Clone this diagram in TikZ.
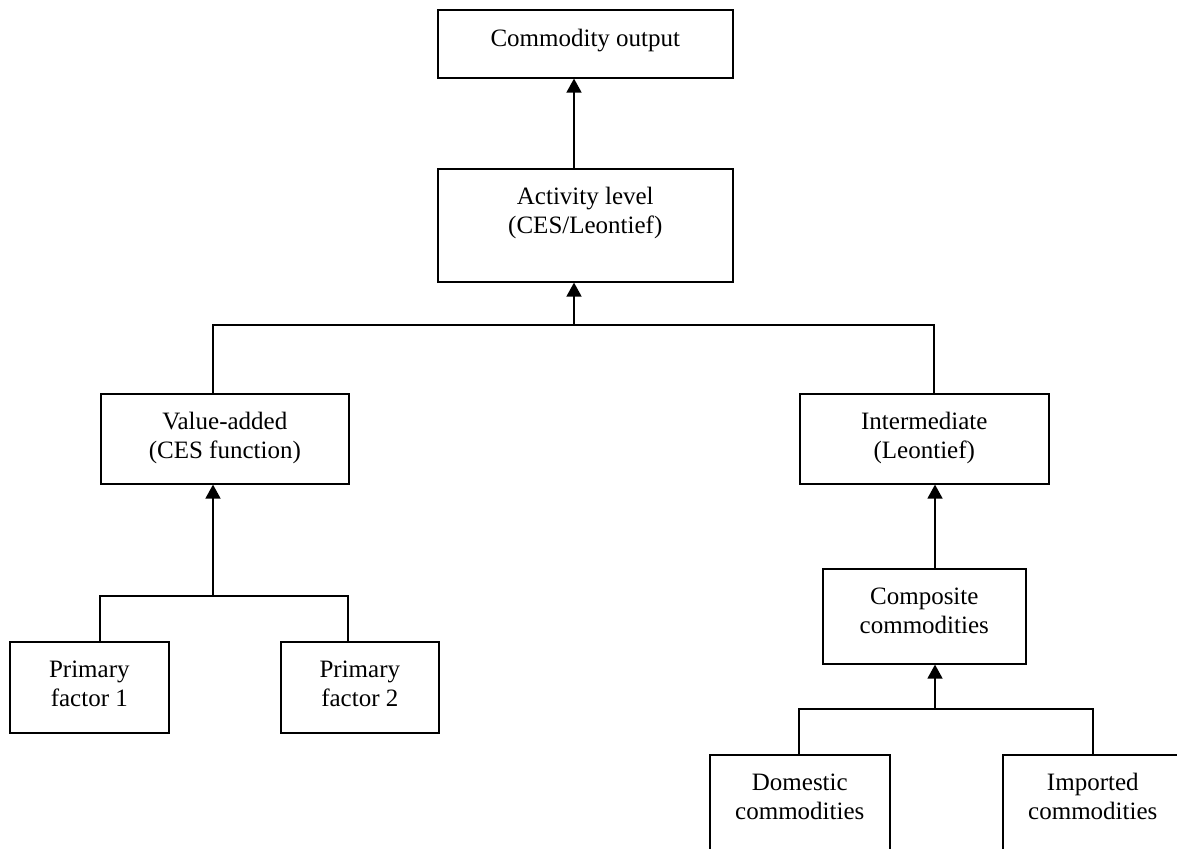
\documentclass[tikz,border=0pt]{standalone}
\usepackage{fontspec}
\setmainfont{Liberation Serif}
\usetikzlibrary{arrows.meta}
\tikzset{
  box/.style={draw, line width=1.6pt, inner sep=0pt, anchor=north west},
  txt/.style={anchor=base, inner sep=0pt, font=\fontsize{25}{29}\selectfont},
  link/.style={line width=1.6pt},
  arr/.style={line width=1.6pt, -{Triangle[width=15pt,length=14pt]}},
}
\begin{document}
\begin{tikzpicture}[x=1pt,y=-1pt]
\useasboundingbox (0,0) rectangle (1177,848);
\clip (0,0) rectangle (1177,848);
% boxes
\node[box, minimum width=295pt, minimum height=68pt]  (co)   at (437,9)   {};
\node[box, minimum width=295pt, minimum height=113pt] (act)  at (437,168) {};
\node[box, minimum width=248pt, minimum height=90pt]  (va)   at (100,393) {};
\node[box, minimum width=249pt, minimum height=90pt]  (int)  at (799,393) {};
\node[box, minimum width=203pt, minimum height=95pt]  (comp) at (822,568) {};
\node[box, minimum width=159pt, minimum height=91pt]  (pf1)  at (9,641)   {};
\node[box, minimum width=158pt, minimum height=91pt]  (pf2)  at (280,641) {};
\node[box, minimum width=180pt, minimum height=130pt] (dom)  at (709,754) {};
\node[box, minimum width=180pt, minimum height=130pt] (imp)  at (1002,754) {};
% texts
\node[txt] (coT)   at ([yshift=-38pt]co.north)   {Commodity output};
\node[txt] (actT)  at ([yshift=-36pt]act.north)  {\begin{tabular}[t]{@{}c@{}}Activity level\\(CES/Leontief)\end{tabular}};
\node[txt] (vaT)   at ([yshift=-36pt]va.north)   {\begin{tabular}[t]{@{}c@{}}Value-added\\(CES function)\end{tabular}};
\node[txt] (intT)  at ([yshift=-36pt]int.north)  {\begin{tabular}[t]{@{}c@{}}Intermediate\\(Leontief)\end{tabular}};
\node[txt] (compT) at ([yshift=-36pt]comp.north) {\begin{tabular}[t]{@{}c@{}}Composite\\commodities\end{tabular}};
\node[txt] (pf1T)  at ([yshift=-36pt]pf1.north)  {\begin{tabular}[t]{@{}c@{}}Primary\\factor 1\end{tabular}};
\node[txt] (pf2T)  at ([yshift=-36pt]pf2.north)  {\begin{tabular}[t]{@{}c@{}}Primary\\factor 2\end{tabular}};
\node[txt] (domT)  at ([yshift=-36pt]dom.north)  {\begin{tabular}[t]{@{}c@{}}Domestic\\commodities\end{tabular}};
\node[txt] (impT)  at ([yshift=-36pt]imp.north)  {\begin{tabular}[t]{@{}c@{}}Imported\\commodities\end{tabular}};
% junction coordinates
\coordinate (jA) at (574,325);
\coordinate (jL) at (213,325);
\coordinate (jR) at (934,325);
\coordinate (jV) at (213,596);
\coordinate (jP1) at (100,596);
\coordinate (jP2) at (348,596);
\coordinate (jC) at (935,709);
\coordinate (jD) at (799,709);
\coordinate (jI) at (1093,709);
% connectors
\draw[arr] (jA |- act.north) -- (jA |- co.south);
\draw[link] (jL |- va.north) -- (jL) -- (jR) -- (jR |- int.north);
\draw[arr] (jA) -- (jA |- act.south);
\draw[link] (jP1 |- pf1.north) -- (jP1) -- (jP2) -- (jP2 |- pf2.north);
\draw[arr] (jV) -- (jV |- va.south);
\draw[arr] (jC |- comp.north) -- (jC |- int.south);
\draw[link] (jD |- dom.north) -- (jD) -- (jI) -- (jI |- imp.north);
\draw[arr] (jC) -- (jC |- comp.south);
\end{tikzpicture}
\end{document}
